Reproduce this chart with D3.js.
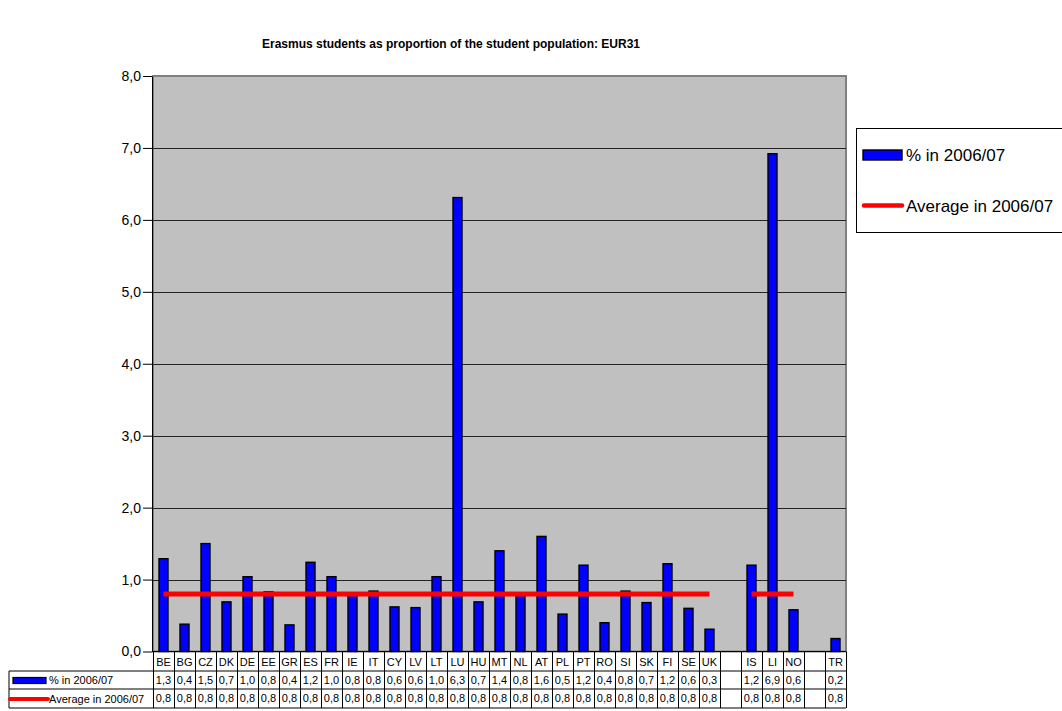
<!DOCTYPE html>
<html>
<head>
<meta charset="utf-8">
<script src="https://cdn.jsdelivr.net/npm/d3@7"></script>
<style>
  body { margin: 0; background: #fff; }
  svg { display: block; font-family: Arial, "Liberation Sans", sans-serif; }
</style>
</head>
<body>
<div id="chart"></div>
<script>
// data, '' = empty slot in the category axis
var categories = ['BE','BG','CZ','DK','DE','EE','GR','ES','FR','IE','IT','CY','LV','LT','LU','HU','MT','NL','AT','PL','PT','RO','SI','SK','FI','SE','UK','','IS','LI','NO','','TR'];
var share = [1.29,0.38,1.5,0.69,1.04,0.83,0.37,1.24,1.04,0.79,0.84,0.62,0.61,1.04,6.31,0.69,1.4,0.78,1.6,0.52,1.2,0.4,0.84,0.68,1.22,0.6,0.31,null,1.2,6.92,0.58,null,0.18];
var average = [0.8,0.8,0.8,0.8,0.8,0.8,0.8,0.8,0.8,0.8,0.8,0.8,0.8,0.8,0.8,0.8,0.8,0.8,0.8,0.8,0.8,0.8,0.8,0.8,0.8,0.8,0.8,null,0.8,0.8,0.8,null,0.8];
var yTicks = [0,1,2,3,4,5,6,7,8];
var seriesNames = ['% in 2006/07', 'Average in 2006/07'];
var title = 'Erasmus students as proportion of the student population: EUR31';

var width = 1062, height = 711;
var plot = {left: 153, right: 846, top: 76, bottom: 651.5};
var tableLeft = 9;
var rowY = [651.5, 671, 689, 708];

var svg = d3.select('#chart').append('svg')
    .attr('width', width)
    .attr('height', height);

var x = d3.scaleBand()
    .domain(d3.range(categories.length))
    .range([plot.left, plot.right])
    .padding(0);

var y = d3.scaleLinear()
    .domain([0, 8])
    .range([plot.bottom, plot.top]);

var fmt = function(v){ return d3.format('.1f')(v).replace('.', ','); };

svg.append('text')
    .attr('x', 451)
    .attr('y', 48)
    .attr('text-anchor', 'middle')
    .style('font-size', '12px')
    .style('font-weight', 'bold')
    .text(title);

// plot background
svg.append('rect')
    .attr('x', plot.left)
    .attr('y', plot.top)
    .attr('width', plot.right - plot.left)
    .attr('height', plot.bottom - plot.top)
    .attr('fill', '#c0c0c0')
    .attr('stroke', '#808080')
    .attr('stroke-width', 2);

// grid lines
svg.append('g').selectAll('line')
    .data(yTicks.slice(1, -1))
    .enter().append('line')
    .attr('x1', plot.left).attr('x2', plot.right)
    .attr('y1', function(d){ return Math.round(y(d)) + 0.5; })
    .attr('y2', function(d){ return Math.round(y(d)) + 0.5; })
    .attr('stroke', '#222')
    .attr('stroke-width', 1);

// y axis
var yAxis = svg.append('g')
    .attr('transform', 'translate(' + (plot.left - 1) + ',0)')
    .call(d3.axisLeft(y).tickValues(yTicks).tickFormat(fmt).tickSize(9).tickSizeOuter(0));
yAxis.select('.domain').attr('stroke', '#000');
yAxis.selectAll('.tick line').attr('stroke', '#000');
yAxis.selectAll('.tick text')
    .attr('x', -11)
    .style('font-size', '14px')
    .style('font-family', 'Arial, "Liberation Sans", sans-serif')
    .attr('fill', '#000');

// bars
var barW = 9;
svg.append('g').selectAll('rect')
    .data(share.map(function(v, i){ return {i: i, v: v}; }).filter(function(d){ return d.v != null; }))
    .enter().append('rect')
    .attr('x', function(d){ return x(d.i) + x.bandwidth()/2 - barW/2; })
    .attr('y', function(d){ return y(d.v); })
    .attr('width', barW)
    .attr('height', function(d){ return y(0) - y(d.v); })
    .attr('fill', '#0000ff')
    .attr('stroke', '#000')
    .attr('stroke-width', 1.4);

// average line
var line = d3.line()
    .defined(function(d){ return d != null; })
    .x(function(d, i){ return x(i) + x.bandwidth()/2; })
    .y(function(d){ return y(d); });
svg.append('path')
    .datum(average)
    .attr('d', line)
    .attr('fill', 'none')
    .attr('stroke', '#ff0000')
    .attr('stroke-width', 5)
    .attr('stroke-linecap', 'butt');

// x axis line
svg.append('line')
    .attr('x1', plot.left - 1).attr('x2', plot.right)
    .attr('y1', plot.bottom).attr('y2', plot.bottom)
    .attr('stroke', '#000');

// data table
var table = svg.append('g');
// horizontal rules
[rowY[1], rowY[2], rowY[3]].forEach(function(yy){
    table.append('line')
        .attr('x1', tableLeft).attr('x2', plot.right)
        .attr('y1', yy).attr('y2', yy)
        .attr('stroke', '#000');
});
// vertical rules
table.append('line')
    .attr('x1', tableLeft).attr('x2', tableLeft)
    .attr('y1', rowY[1]).attr('y2', rowY[3])
    .attr('stroke', '#000');
table.selectAll('.vline')
    .data(d3.range(categories.length + 1))
    .enter().append('line')
    .attr('class', 'vline')
    .attr('x1', function(i){ return Math.round(plot.left + i * x.step()) + 0.5; })
    .attr('x2', function(i){ return Math.round(plot.left + i * x.step()) + 0.5; })
    .attr('y1', rowY[0]).attr('y2', rowY[3])
    .attr('stroke', '#000');

// category labels
table.selectAll('.cat')
    .data(categories)
    .enter().append('text')
    .attr('x', function(d, i){ return x(i) + x.bandwidth()/2; })
    .attr('y', rowY[0] + 14.5)
    .attr('text-anchor', 'middle')
    .style('font-size', '11px')
    .text(function(d){ return d; });

[share, average].forEach(function(vals, r){
    table.selectAll('.row' + r)
        .data(vals)
        .enter().append('text')
        .attr('x', function(d, i){ return x(i) + x.bandwidth()/2; })
        .attr('y', rowY[r + 1] + 13)
        .attr('text-anchor', 'middle')
        .style('font-size', '11px')
        .text(function(d){ return d == null ? '' : fmt(d); });
});

// row keys
table.append('rect')
    .attr('x', 13).attr('y', 677.5)
    .attr('width', 33).attr('height', 6)
    .attr('fill', '#0000ff').attr('stroke', '#000').attr('stroke-width', 1.2);
table.append('text')
    .attr('x', 49).attr('y', 684)
    .style('font-size', '11px')
    .text(seriesNames[0]);
table.append('line')
    .attr('x1', 10).attr('x2', 48)
    .attr('y1', 699).attr('y2', 699)
    .attr('stroke', '#ff0000').attr('stroke-width', 4).attr('stroke-linecap', 'round');
table.append('text')
    .attr('x', 49).attr('y', 703)
    .style('font-size', '11px')
    .text(seriesNames[1]);

// legend (runs off the right edge, as in the original)
var legend = svg.append('g');
legend.append('rect')
    .attr('x', 856.5).attr('y', 128.5)
    .attr('width', 260).attr('height', 104)
    .attr('fill', '#fff').attr('stroke', '#000');
legend.append('rect')
    .attr('x', 863).attr('y', 150)
    .attr('width', 39).attr('height', 10)
    .attr('fill', '#0000ff').attr('stroke', '#000').attr('stroke-width', 1.4);
legend.append('text')
    .attr('x', 906).attr('y', 161)
    .style('font-size', '17px')
    .text(seriesNames[0]);
legend.append('line')
    .attr('x1', 864).attr('x2', 902)
    .attr('y1', 205.5).attr('y2', 205.5)
    .attr('stroke', '#ff0000').attr('stroke-width', 4.5).attr('stroke-linecap', 'round');
legend.append('text')
    .attr('x', 906).attr('y', 212)
    .style('font-size', '17px')
    .text(seriesNames[1]);
</script>
</body>
</html>
